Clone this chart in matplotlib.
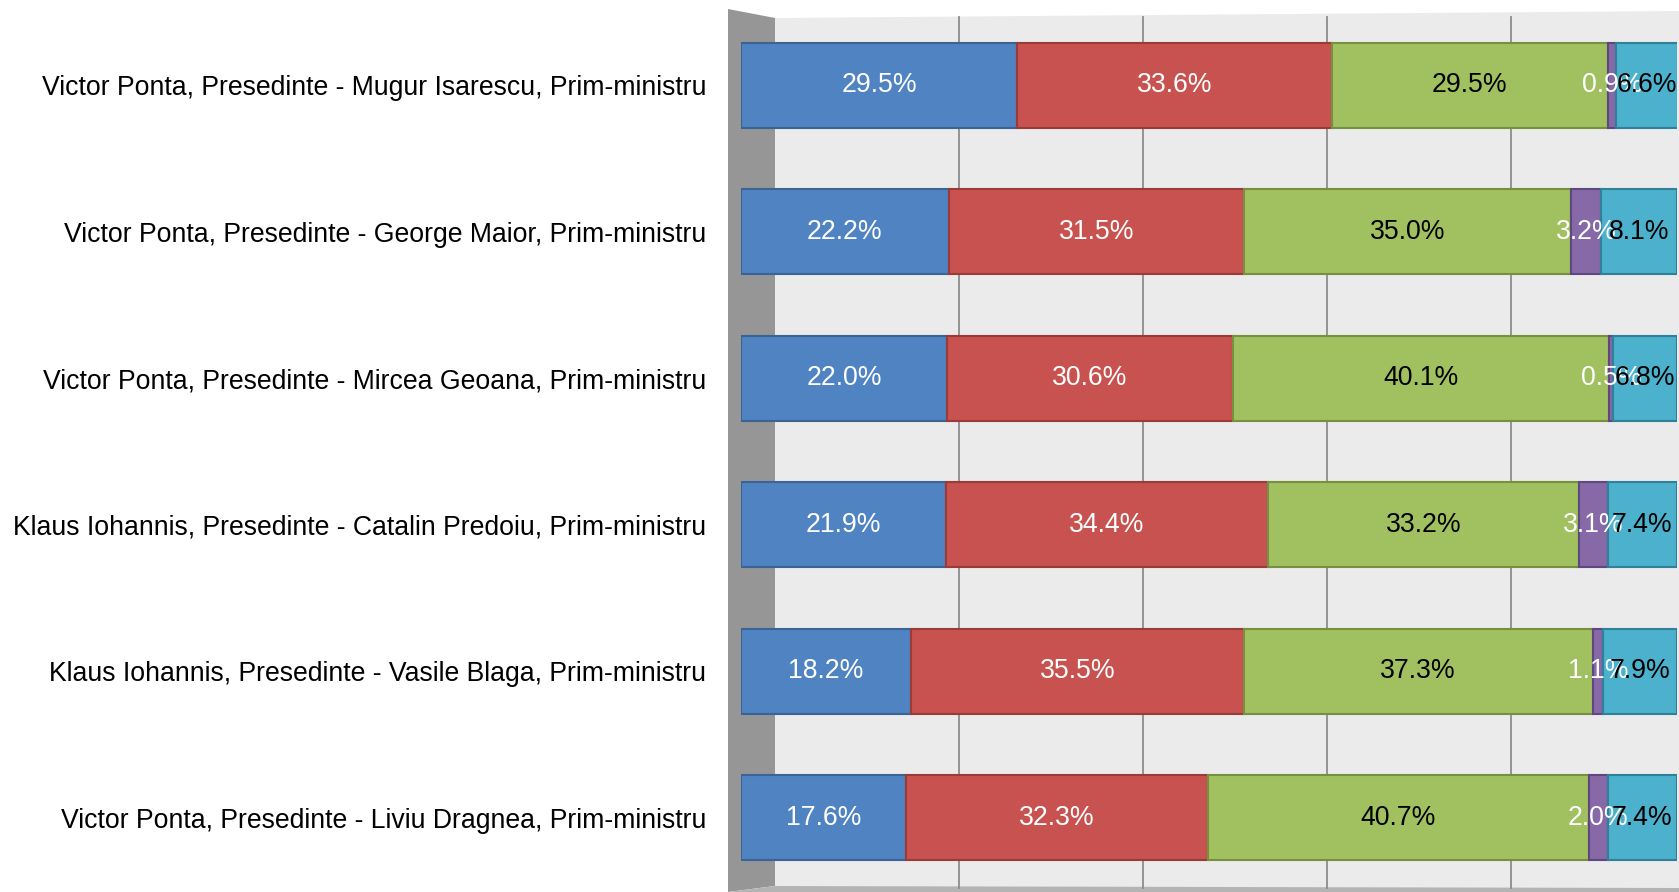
import numpy as np
import matplotlib.pyplot as plt
from matplotlib.patches import Polygon
from matplotlib.lines import Line2D

plt.rcParams['font.family'] = ['Liberation Sans', 'DejaVu Sans']

categories = ['Victor Ponta, Presedinte - Mugur Isarescu, Prim-ministru',
              'Victor Ponta, Presedinte - George Maior, Prim-ministru',
              'Victor Ponta, Presedinte - Mircea Geoana, Prim-ministru',
              'Klaus Iohannis, Presedinte - Catalin Predoiu, Prim-ministru',
              'Klaus Iohannis, Presedinte - Vasile Blaga, Prim-ministru',
              'Victor Ponta, Presedinte - Liviu Dragnea, Prim-ministru']

s1 = [29.5, 22.2, 22.0, 21.9, 18.2, 17.6]
s2 = [33.6, 31.5, 30.6, 34.4, 35.5, 32.3]
s3 = [29.5, 35.0, 40.1, 33.2, 37.3, 40.7]
s4 = [0.9, 3.2, 0.5, 3.1, 1.1, 2.0]
s5 = [6.6, 8.1, 6.8, 7.4, 7.9, 7.4]

series = [s1, s2, s3, s4, s5]
colors = ['#5083C1', '#C75250', '#A1C160', '#8769A7', '#4CB1CD']
edges = ['#3A6496', '#9A3B39', '#76903F', '#5F4880', '#2F8099']
txtcol = ['white', 'white', 'black', 'white', 'black']
grid_vals = [20, 40, 60, 80]

W, H = 1679, 892
fig = plt.figure(figsize=(W / 100, H / 100), dpi=100)

def fx(px):
    return px / W

def fy(py):
    return 1 - py / H

# 3d walls (pixel positions)
back = Polygon([(fx(775), fy(18)), (fx(1679), fy(11)), (fx(1679), fy(892)), (fx(775), fy(886))],
               closed=True, transform=fig.transFigure, facecolor='#EBEBEB', edgecolor='none', zorder=-3)
side = Polygon([(fx(728), fy(9)), (fx(775), fy(18)), (fx(775), fy(886)), (fx(728), fy(892))],
               closed=True, transform=fig.transFigure, facecolor='#969696', edgecolor='none', zorder=-2)
floor = Polygon([(fx(728), fy(892)), (fx(775), fy(886)), (fx(1679), fy(888)), (fx(1679), fy(892))],
                closed=True, transform=fig.transFigure, facecolor='#B4B4B4', edgecolor='none', zorder=-2)
fig.patches.extend([back, side, floor])

for g in grid_vals:
    gx = 775 + 9.2 * g
    fig.lines.append(Line2D([fx(gx), fx(gx)], [fy(17), fy(888)], transform=fig.transFigure,
                            color='#8C8C8C', lw=1.3, zorder=-1))

ax = fig.add_axes([fx(741), 0, fx(1677) - fx(741), 1])
ax.set_facecolor('none')

y = np.arange(len(categories))
left = np.zeros(len(categories))
for vals, c, ec, tc in zip(series, colors, edges, txtcol):
    ax.barh(y, vals, left=left, height=0.58, color=c, edgecolor=ec, linewidth=1.5)
    for i, v in enumerate(vals):
        ax.text(left[i] + v / 2, y[i], f'{v:.1f}%', ha='center', va='center',
                color=tc, fontsize=19.2)
    left = left + np.array(vals)

ax.set_xlim(0, 100)
ax.set_ylim(5.505, -0.58)
ax.set_yticks(y)
ax.set_yticklabels(categories, fontsize=19.2)
ax.tick_params(axis='y', length=0, pad=25)
ax.set_xticks([])
for sp in ax.spines.values():
    sp.set_visible(False)

fig.savefig('out.png', dpi=100)
